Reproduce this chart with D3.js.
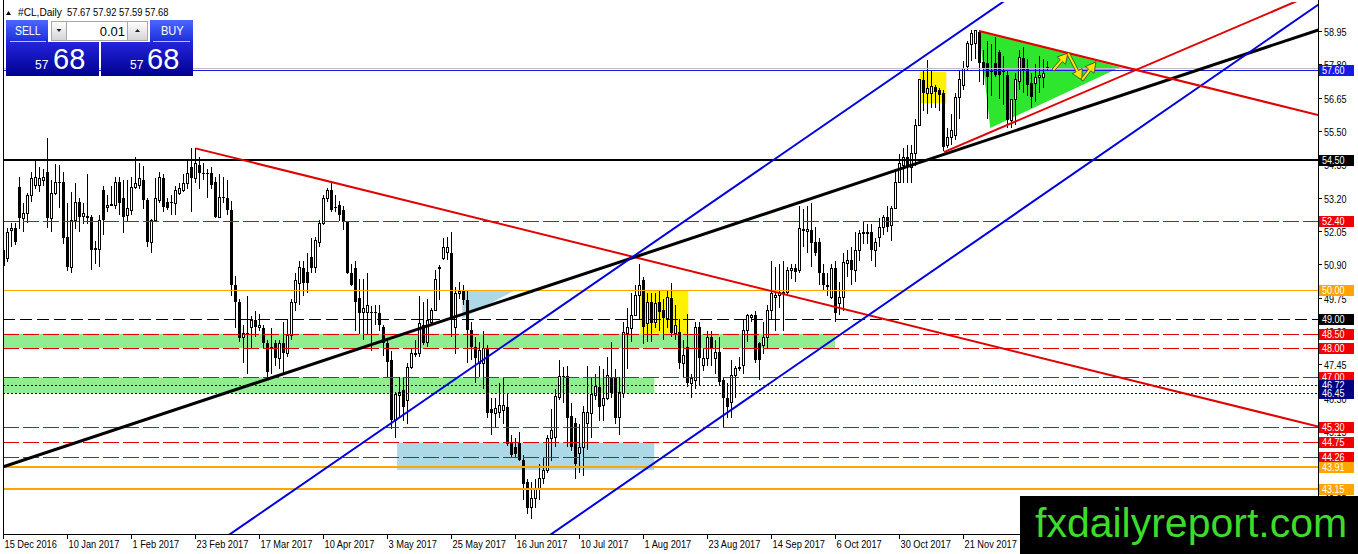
<!DOCTYPE html>
<html><head><meta charset="utf-8">
<script src="https://cdnjs.cloudflare.com/ajax/libs/d3/7.8.5/d3.min.js"></script>
<style>
html,body{margin:0;padding:0;background:#fff;overflow:hidden;}
svg{display:block;}
</style></head><body>
<svg id="c" width="1358" height="554"></svg>
<script>
// ---------------- DATA ----------------
const title = "#CL,Daily";
const titleOHLC = "57.67 57.92 57.59 57.68";
const dateLabels = ['15 Dec 2016','10 Jan 2017','1 Feb 2017','23 Feb 2017','17 Mar 2017','10 Apr 2017','3 May 2017','25 May 2017','16 Jun 2017','10 Jul 2017','1 Aug 2017','23 Aug 2017','14 Sep 2017','6 Oct 2017','30 Oct 2017','21 Nov 2017'];
const dateBars = [0,16,32,48,64,80,96,112,128,144,160,176,192,208,224,240];
const priceTicks = [58.95,57.80,56.65,55.50,54.35,53.20,52.05,50.90,49.75,48.60,47.45,46.30,45.15,44.00,42.85];

const O = [50.86,51.11,52.07,52.14,53.56,52.49,52.66,53.28,53.63,53.63,
53.80,54.08,52.49,53.35,53.73,53.73,51.83,50.80,52.42,53.04,
52.56,52.56,52.52,51.45,51.42,53.46,52.87,52.94,52.94,53.73,
53.18,52.59,52.76,53.56,53.63,53.80,53.11,51.66,52.42,53.11,
53.87,53.04,53.04,53.01,53.35,53.46,53.70,54.25,53.87,54.32,
54.04,54.04,54.04,53.73,52.52,53.21,53.18,52.76,50.17,49.59,
48.38,48.52,48.72,48.96,48.72,48.69,48.17,48.03,48.17,47.65,
48.17,47.82,48.45,49.59,50.24,50.76,50.62,51.14,50.80,51.66,
52.31,53.18,53.46,52.87,52.94,52.76,52.35,50.59,50.76,49.73,
49.24,49.24,49.24,49.24,49.21,48.72,48.17,47.58,45.50,46.37,
46.55,46.20,47.34,47.79,47.82,48.79,48.20,48.89,49.31,50.76,
51.11,51.31,51.28,48.72,49.90,50.00,49.66,48.62,48.03,47.48,
47.48,48.00,45.92,45.75,45.79,45.85,45.96,44.75,44.60,44.72,
44.13,43.37,42.50,42.81,43.16,43.50,43.78,44.89,44.92,46.30,
47.06,47.06,45.68,45.41,44.37,44.58,45.41,45.75,46.37,46.68,
46.03,46.27,47.00,46.96,45.61,46.44,48.52,48.69,49.14,49.83,
50.35,48.86,49.59,48.89,49.59,49.31,49.04,49.72,48.52,48.55,
47.48,48.03,46.79,46.89,48.72,47.41,47.65,48.38,47.65,47.86,
46.89,46.30,46.13,47.06,47.30,47.41,48.62,49.07,49.14,48.17,
48.10,48.38,49.31,49.76,49.83,49.90,49.93,50.69,50.76,50.69,
52.11,52.04,52.07,51.66,51.66,50.59,50.17,49.76,50.76,49.55,
49.76,50.93,51.04,50.69,51.38,51.97,51.97,52.00,51.38,51.83,
52.18,52.52,52.25,52.83,53.73,54.32,54.60,54.25,54.73,55.70,
57.26,56.81,56.81,57.02,56.91,56.81,55.01,55.28,55.36,56.64,
57.08,57.71,58.47,58.53,58.91,57.88,57.84,57.60,57.84,58.22,
57.60,57.43,55.87,56.57,57.19,58.02,57.67,57.15,57.15,57.33,
57.33,57.67];
const H = [51.55,52.14,52.31,52.31,53.90,53.00,53.35,54.08,54.50,54.25,
54.20,55.25,53.80,54.35,54.32,54.08,53.00,53.40,53.70,53.20,
53.00,54.00,52.60,51.70,52.60,53.60,53.30,53.60,53.90,53.90,
53.80,53.80,53.90,54.60,54.40,54.30,53.20,52.47,53.87,54.10,
54.00,53.20,53.30,53.60,53.70,54.00,54.50,54.90,54.90,54.60,
54.40,54.20,54.25,53.90,54.00,53.90,53.80,53.10,50.50,49.70,
48.80,49.80,49.10,49.30,49.20,48.80,48.30,48.70,48.30,48.30,
48.90,49.00,49.70,50.60,51.00,51.00,51.30,51.80,51.83,52.42,
53.28,53.52,53.73,53.28,53.10,52.90,52.40,50.90,51.00,50.40,
50.40,50.60,49.45,49.50,49.50,48.80,48.30,47.90,46.50,47.00,
47.00,47.50,48.00,48.30,49.80,49.60,49.70,49.40,50.70,50.87,
51.80,51.83,52.00,50.10,50.30,50.20,50.00,48.90,48.40,48.20,
48.60,48.10,46.30,46.30,46.80,47.00,46.45,45.00,44.90,45.10,
44.30,43.50,43.40,43.50,44.00,44.20,45.00,45.90,46.60,47.60,
47.34,47.40,46.10,45.60,45.40,46.00,47.40,47.00,47.10,47.40,
47.30,47.70,48.20,47.30,47.00,48.90,49.40,49.90,50.20,50.90,
50.45,49.90,49.90,49.90,50.00,49.70,50.00,50.24,49.50,49.00,
48.30,49.20,47.10,48.90,48.90,48.00,48.60,48.60,48.30,48.40,
47.00,46.80,47.60,47.40,47.70,49.00,49.20,49.20,49.30,48.20,
48.90,49.50,51.00,50.80,50.90,51.00,50.80,50.90,50.90,52.90,
52.80,52.90,53.00,52.20,51.80,50.90,50.60,50.90,51.00,50.30,
51.30,51.38,51.50,52.00,52.07,52.40,52.30,52.30,51.80,52.50,
52.60,52.90,52.90,54.20,54.70,54.90,55.00,55.00,55.90,57.30,
57.60,57.95,57.60,57.10,57.00,56.90,55.60,56.10,56.80,57.60,
57.90,58.60,58.98,59.00,58.98,58.30,58.60,58.50,58.74,58.30,
58.10,57.60,56.60,57.50,58.30,58.40,58.00,57.50,57.80,58.10,
58.00,57.92];
const L = [50.17,50.97,51.49,51.55,52.10,52.00,52.31,53.04,53.50,53.40,
53.60,52.14,52.00,53.30,52.83,51.60,50.65,50.60,52.10,52.00,
52.30,52.30,50.70,50.90,50.80,51.90,52.70,52.90,52.80,52.60,
51.97,52.40,52.60,53.50,53.50,52.80,51.50,51.28,52.35,53.00,
52.70,52.77,52.60,52.60,53.30,53.40,53.50,52.70,53.70,53.50,
53.80,53.20,53.50,52.50,52.50,53.00,52.60,49.80,48.70,48.20,
47.50,47.10,48.00,48.40,48.60,48.00,47.00,47.10,47.40,47.30,
47.10,47.70,48.30,49.30,49.50,49.80,49.90,50.60,50.60,51.50,
52.25,53.04,52.70,52.70,52.40,52.07,50.55,50.15,48.60,48.50,
48.30,48.50,47.90,48.80,48.60,47.75,47.00,45.20,44.90,45.60,
45.50,45.40,47.30,47.70,47.70,48.10,48.03,48.80,49.30,49.66,
51.04,51.04,48.40,47.80,49.70,49.50,47.50,47.60,46.79,47.00,
46.60,45.60,45.00,45.30,45.60,45.40,44.64,44.20,44.20,44.10,
42.75,42.28,42.10,42.50,42.75,43.30,43.70,44.10,44.60,46.20,
46.10,44.60,44.46,43.50,43.68,43.60,44.50,44.90,46.20,45.50,
45.50,46.20,46.30,45.40,45.00,46.30,47.30,48.20,49.10,49.00,
48.15,48.20,48.20,48.70,48.60,48.30,48.70,48.38,48.30,47.30,
47.00,46.65,46.30,46.60,46.70,47.20,47.40,47.40,47.10,46.70,
45.30,45.60,45.60,46.30,47.20,47.10,48.20,48.90,47.50,46.90,
47.80,48.00,49.00,48.60,49.40,48.60,49.80,50.40,50.30,50.60,
51.50,51.30,50.80,51.20,50.20,50.00,49.80,49.70,48.90,49.14,
49.30,50.45,50.20,50.30,51.00,51.60,51.60,51.00,50.80,51.50,
51.90,52.00,51.70,52.80,53.70,53.70,53.70,53.70,54.30,55.70,
56.20,56.10,56.30,56.30,56.20,54.80,54.90,55.00,55.20,55.90,
56.90,57.60,57.90,58.00,57.20,57.10,55.90,56.70,57.36,56.60,
56.40,55.60,55.60,55.70,56.90,56.80,56.70,56.30,56.50,56.80,
57.00,57.59];
const C = [51.38,52.00,52.12,51.66,52.49,52.66,53.28,53.87,53.90,53.87,
53.90,52.49,53.35,53.73,53.70,51.80,50.80,52.42,53.04,52.52,
52.66,52.49,51.38,51.40,52.42,52.42,52.94,52.97,53.73,53.00,
52.52,52.83,53.56,53.70,53.87,53.11,51.66,52.42,53.18,53.90,
52.87,52.83,53.01,53.46,53.52,53.70,54.04,53.87,54.39,54.04,
54.02,54.00,53.63,52.52,53.21,53.18,52.76,50.17,49.59,48.34,
48.52,48.45,48.96,48.72,48.79,48.17,47.17,48.00,47.65,48.17,
47.82,48.45,49.59,50.35,50.80,50.24,50.24,50.76,51.73,52.31,
53.18,53.46,52.76,52.83,52.59,52.35,50.59,50.17,49.59,49.21,
49.38,49.48,49.21,49.22,48.79,48.17,47.51,45.51,46.40,46.48,
45.96,47.34,47.82,47.82,48.86,48.17,48.96,49.31,50.38,50.79,
51.49,51.49,48.96,49.90,49.97,49.66,48.62,48.03,47.68,47.93,
48.00,45.75,45.75,45.92,46.03,46.03,44.71,44.30,44.35,44.13,
43.33,42.50,42.81,43.16,43.50,43.78,44.89,45.16,46.34,47.03,
47.00,45.61,44.58,44.02,44.58,45.79,45.79,46.41,46.68,45.96,
46.27,47.06,46.44,45.58,46.48,48.55,48.72,49.14,49.83,50.17,
48.72,49.59,48.86,49.55,49.24,49.04,49.76,48.52,48.79,47.48,
47.75,46.79,46.96,48.72,47.68,47.65,48.38,47.99,47.86,46.82,
46.30,45.96,47.06,47.30,47.34,48.62,49.14,49.14,47.58,47.58,
48.38,49.31,49.90,49.83,49.93,49.93,50.69,50.76,50.62,52.14,
52.04,52.11,51.62,51.28,50.59,50.17,50.10,50.76,49.21,49.76,
50.97,51.04,50.69,51.38,51.97,52.00,52.00,51.38,51.66,52.18,
52.52,52.18,52.83,53.73,54.39,54.60,54.25,54.73,55.70,57.26,
56.81,56.98,57.02,56.84,56.74,54.94,55.28,55.53,56.64,57.26,
57.67,58.53,58.88,58.98,57.84,57.67,57.36,57.53,57.43,57.43,
57.53,55.87,56.57,57.26,58.02,57.60,57.08,56.67,57.33,57.43,
57.50,57.68];

// horizontal price levels
const levelValues = [57.60,54.50,52.40,50.00,49.00,48.50,48.00,47.00,46.72,46.45,45.30,44.75,44.26,43.91,43.15];
const bidPrice = 57.68;

// zones: [barFrom, barTo, priceTop, priceBottom]
const greenZones = [[-2,207.9,48.50,48.00],[-2,162.7,47.00,46.45]];
const yellowZones = [[159.2,171.2,50.00,48.50],[229.0,235.7,57.55,56.46]];
const blueZones = [[98.4,162.7,44.75,43.80]];
const blueTriangle = [[114.7,50.00],[127.9,50.00],[114.7,49.03]];
const greenTriangle = [[243.9,58.95],[246.7,55.60],[279.2,57.70]];

// trendlines: two anchor points [bar, price]
const blackTrend = [[0,43.91],[328.6,58.98]];
const blueUpper = [[57.1,41.63],[249.1,59.88]];
const blueLower = [[137.4,41.63],[328.6,59.85]];
const redLong = [[48,54.90],[328.6,45.30]];
const redUpper = [[243.9,58.95],[328.6,56.05]];
const redLower = [[235.1,54.77],[321.6,59.88]];
const arrowPath = [[262.4,57.60],[266.1,58.19],[269.6,57.26],[273.1,57.88]];

// ---------------- DRAW ----------------
const F = "'Liberation Sans',Arial,sans-serif";
const svg = d3.select('#c');
const x = d3.scaleLinear().domain([0,261]).range([3.5,1047.5]);
const y = d3.scaleLinear().domain([42.85,58.95]).range([497.5,31]);
const PL=3, PR=1318, PT=2, PB=534;

// condense a text element to look like the narrow terminal font
function narrow(t, f){
  const n = t.node(); const len = n.getComputedTextLength();
  t.attr('textLength', (len*f).toFixed(2)).attr('lengthAdjust','spacingAndGlyphs');
  return t;
}

const defs = svg.append('defs');
defs.append('clipPath').attr('id','clip').append('rect')
  .attr('x',PL).attr('y',PT).attr('width',PR-PL).attr('height',PB-PT);
function grad(id, c1, c2){
  const lg = defs.append('linearGradient').attr('id',id).attr('x1',0).attr('y1',0).attr('x2',0).attr('y2',1);
  lg.append('stop').attr('offset','0%').attr('stop-color',c1);
  lg.append('stop').attr('offset','100%').attr('stop-color',c2);
}
grad('gBtn','#4d66ff','#1a2ed8');
grad('gBig','#2424dc','#000090');
grad('gGray','#ffffff','#d4d4d4');

svg.append('rect').attr('width',1358).attr('height',554).attr('fill','#fff');

const g = svg.append('g').attr('clip-path','url(#clip)');

function zone(z, fill){
  g.append('rect').attr('x',x(z[0])).attr('width',x(z[1])-x(z[0]))
   .attr('y',y(z[2])).attr('height',y(z[3])-y(z[2])).attr('fill',fill);
}
greenZones.forEach(z=>zone(z,'#90ee90'));
yellowZones.forEach(z=>zone(z,'#fff200'));
blueZones.forEach(z=>zone(z,'#add8e6'));
const poly = d3.line().x(d=>x(d[0])).y(d=>y(d[1]));
g.append('path').attr('d',poly(blueTriangle)+'Z').attr('fill','#add8e6');
g.append('path').attr('d',poly(greenTriangle)+'Z').attr('fill','#2ee62e');

// candles
const cg = g.append('g').attr('shape-rendering','crispEdges');
d3.range(O.length).forEach(i=>{
  const cx = x(i);
  cg.append('line').attr('x1',cx).attr('x2',cx).attr('y1',y(H[i])).attr('y2',y(L[i]))
    .attr('stroke','#000').attr('stroke-width',1);
  const top = y(Math.max(O[i],C[i])), bot = y(Math.min(O[i],C[i]));
  if (C[i] >= O[i]) {
    cg.append('rect').attr('x',cx-1).attr('width',2).attr('y',top).attr('height',Math.max(bot-top,0.01))
      .attr('fill','#fff').attr('stroke','#000').attr('stroke-width',1);
  } else {
    cg.append('rect').attr('x',cx-1.5).attr('width',3).attr('y',top).attr('height',Math.max(bot-top,1))
      .attr('fill','#000');
  }
});

// horizontal levels
const levelLook = ['blue','black2','red','orange','blackdash','red','red','red','navy','navy','red','red','red','orange2','orange2'];
const looks = {
  blue:{c:'#1a1ae6',w:1,d:null,bg:'#1919e6'},
  black2:{c:'#000',w:2,d:null,bg:'#000'},
  red:{c:'#e00000',w:1,d:'16,4',bg:'#f00000'},
  orange:{c:'#ffa500',w:1,d:null,bg:'#ffa500'},
  orange2:{c:'#ffa500',w:2,d:null,bg:'#ffa500'},
  blackdash:{c:'#000',w:1,d:'12,5',bg:'#000'},
  navy:{c:'#000080',w:1,d:'2,2',bg:'#000080'}
};
g.append('line').attr('x1',PL).attr('x2',PR).attr('y1',Math.round(y(bidPrice))+0.5).attr('y2',Math.round(y(bidPrice))+0.5)
  .attr('stroke','#c0c0c0').attr('stroke-width',1);
levelValues.forEach((v,i)=>{
  const lk = looks[levelLook[i]];
  const yy = lk.w===1 ? Math.round(y(v))+0.5 : Math.round(y(v));
  g.append('line').attr('x1',PL).attr('x2',PR).attr('y1',yy).attr('y2',yy)
    .attr('stroke',lk.c).attr('stroke-width',lk.w).attr('stroke-dasharray',lk.d);
});

// trendlines
function trend(pts, color, w, mode){
  const [a,b] = pts;
  const s = (b[1]-a[1])/(b[0]-a[0]);
  const x0 = mode==='both' ? -20 : a[0];
  const x1 = 360;
  g.append('line').attr('x1',x(x0)).attr('y1',y(a[1]+s*(x0-a[0])))
    .attr('x2',x(x1)).attr('y2',y(a[1]+s*(x1-a[0])))
    .attr('stroke',color).attr('stroke-width',w);
}
trend(redLong,'#e00000',2,'ray');
trend(blackTrend,'#000',3,'both');
trend(blueUpper,'#0000dd',2,'both');
trend(blueLower,'#0000dd',2,'both');
trend(redUpper,'#e00000',2,'ray');
trend(redLower,'#e00000',2,'ray');

// arrows
function arrow(p0,p1){
  const dx=p1[0]-p0[0], dy=p1[1]-p0[1], len=Math.hypot(dx,dy);
  const ux=dx/len, uy=dy/len, nx=-uy, ny=ux;
  const hl=10, hw=5.5, sw=1.4;
  const bx=p1[0]-ux*hl, by=p1[1]-uy*hl;
  const pts=[[p0[0]+nx*sw,p0[1]+ny*sw],[bx+nx*sw,by+ny*sw],[bx+nx*hw,by+ny*hw],p1,
    [bx-nx*hw,by-ny*hw],[bx-nx*sw,by-ny*sw],[p0[0]-nx*sw,p0[1]-ny*sw]];
  g.append('polygon').attr('points',pts.map(p=>p.join(',')).join(' '))
    .attr('fill','#ffe600').attr('stroke','#3a3a3a').attr('stroke-width',0.8);
}
const ap = arrowPath.map(p=>[x(p[0]),y(p[1])]);
for(let k=0;k<ap.length-1;k++) arrow(ap[k],ap[k+1]);

// frame & axes
const ax = svg.append('g').attr('shape-rendering','crispEdges');
ax.append('line').attr('x1',PL+0.5).attr('x2',PL+0.5).attr('y1',0).attr('y2',PB).attr('stroke','#000');
ax.append('line').attr('x1',PL).attr('x2',PR).attr('y1',PB+0.5).attr('y2',PB+0.5).attr('stroke','#000');
ax.append('line').attr('x1',PR+0.5).attr('x2',PR+0.5).attr('y1',0).attr('y2',PB+1).attr('stroke','#000');

// price axis ticks
priceTicks.forEach(v=>{
  const yy = Math.round(y(v))+0.5;
  ax.append('line').attr('x1',PR).attr('x2',PR+4).attr('y1',yy).attr('y2',yy).attr('stroke','#000');
  narrow(svg.append('text').attr('x',PR+6).attr('y',yy+4).attr('font-family',F).attr('font-size',11)
    .attr('fill','#000').text(v.toFixed(2)), 0.82);
});
// price labels
levelValues.forEach((v,i)=>{
  const lk = looks[levelLook[i]];
  const yy = Math.round(y(v));
  svg.append('rect').attr('x',PR+1).attr('y',yy-5.5).attr('width',35).attr('height',11)
    .attr('fill',lk.bg).attr('shape-rendering','crispEdges');
  narrow(svg.append('text').attr('x',PR+4).attr('y',yy+4).attr('font-family',F).attr('font-size',11)
    .attr('fill','#fff').text(v.toFixed(2)), 0.82);
});

// date axis
dateBars.forEach((b,i)=>{
  const xx = Math.round(x(b))-0.5;
  ax.append('line').attr('x1',xx).attr('x2',xx).attr('y1',PB).attr('y2',PB+5).attr('stroke','#000');
  narrow(svg.append('text').attr('x',xx+1).attr('y',PB+14).attr('font-family',F).attr('font-size',11)
    .attr('fill','#000').text(dateLabels[i]), 0.84);
});

// title
svg.append('polygon').attr('points','6,15 8.5,11 11,15').attr('fill','#000');
narrow(svg.append('text').attr('x',18).attr('y',15.5).attr('font-family',F).attr('font-size',11).text(title), 0.92);
narrow(svg.append('text').attr('x',67).attr('y',15.5).attr('font-family',F).attr('font-size',11).text(titleOHLC), 0.85);

// trading panel
const p = svg.append('g');
p.append('rect').attr('x',6).attr('y',20).attr('width',42).attr('height',22).attr('fill','url(#gBtn)');
p.append('rect').attr('x',150).attr('y',20).attr('width',43).attr('height',22).attr('fill','url(#gBtn)');
narrow(p.append('text').attr('x',15).attr('y',35).attr('font-family',F).attr('font-size',13).attr('fill','#fff').text('SELL'),0.8);
narrow(p.append('text').attr('x',161).attr('y',35).attr('font-family',F).attr('font-size',13).attr('fill','#fff').text('BUY'),0.85);
p.append('rect').attr('x',51.5).attr('y',21.5).attr('width',15).attr('height',19).attr('fill','url(#gGray)').attr('stroke','#a8a8a8');
p.append('rect').attr('x',66.5).attr('y',21.5).attr('width',61).attr('height',19).attr('fill','#fff').attr('stroke','#a8a8a8');
p.append('rect').attr('x',127.5).attr('y',21.5).attr('width',20).attr('height',19).attr('fill','url(#gGray)').attr('stroke','#a8a8a8');
p.append('polygon').attr('points','56.5,29 61.5,29 59,32').attr('fill','#222');
p.append('polygon').attr('points','135,32 140,32 137.5,29').attr('fill','#222');
p.append('text').attr('x',125).attr('y',35.5).attr('text-anchor','end').attr('font-family',F).attr('font-size',13).attr('fill','#000').text('0.01');
p.append('rect').attr('x',6).attr('y',42).attr('width',93).attr('height',34).attr('fill','url(#gBig)');
p.append('rect').attr('x',101).attr('y',42).attr('width',92).attr('height',34).attr('fill','url(#gBig)');
p.append('line').attr('x1',10).attr('x2',46).attr('y1',41.5).attr('y2',41.5).attr('stroke','#b8c0ff').attr('stroke-width',1);
p.append('line').attr('x1',153).attr('x2',190).attr('y1',41.5).attr('y2',41.5).attr('stroke','#b8c0ff').attr('stroke-width',1);
p.append('text').attr('x',35).attr('y',69).attr('font-family',F).attr('font-size',12).attr('fill','#fff').text('57');
p.append('text').attr('x',53).attr('y',69).attr('font-family',F).attr('font-size',29).attr('fill','#fff').text('68');
p.append('text').attr('x',130).attr('y',69).attr('font-family',F).attr('font-size',12).attr('fill','#fff').text('57');
p.append('text').attr('x',147).attr('y',69).attr('font-family',F).attr('font-size',29).attr('fill','#fff').text('68');

// watermark
svg.append('rect').attr('x',1020).attr('y',496).attr('width',338).attr('height',58).attr('fill','#000');
svg.append('text').attr('x',1035).attr('y',537).attr('font-family',F)
  .attr('font-size',41).attr('fill','#3ddc2a').text('fxdailyreport.com');
</script>
</body></html>
